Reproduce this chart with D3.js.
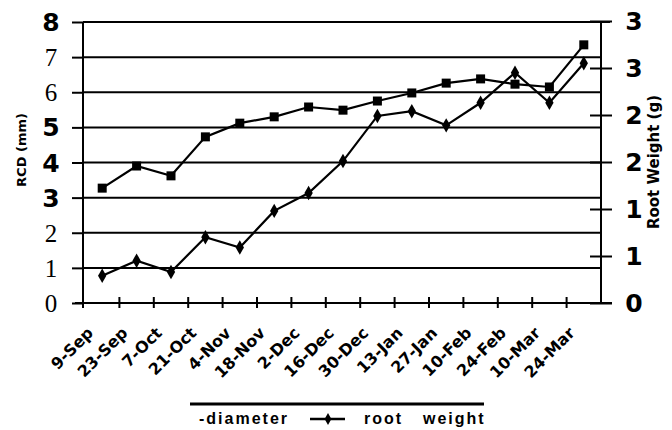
<!DOCTYPE html>
<html>
<head>
<meta charset="utf-8">
<script src="https://cdn.jsdelivr.net/npm/d3@7"></script>
<style>
body{margin:0;background:#fff;}
svg{display:block;}
</style>
</head>
<body>
<div id="chart"></div>
<script>
// sampling dates
const dates = ["9-Sep","23-Sep","7-Oct","21-Oct","4-Nov","18-Nov","2-Dec","16-Dec","30-Dec","13-Jan","27-Jan","10-Feb","24-Feb","10-Mar","24-Mar"];
// root collar diameter (mm), left axis
const diameter = [3.27,3.90,3.62,4.73,5.12,5.30,5.58,5.49,5.75,5.98,6.26,6.38,6.23,6.15,7.35];
// root weight (g), right axis
const rootWeight = [0.29,0.45,0.33,0.70,0.59,0.98,1.17,1.51,1.99,2.04,1.89,2.13,2.45,2.13,2.55];
const leftTicks = [0,1,2,3,4,5,6,7,8];
const boldLeft = [3,4,5,8];
const rightTicks = [0,0.5,1,1.5,2,2.5,3];

const W = 672, H = 430;
const svg = d3.select("#chart").append("svg")
  .attr("width", W).attr("height", H);

const x = d3.scaleBand().domain(dates).range([85, 601]);
const yL = d3.scaleLinear().domain([0, 8]).range([303, 22]);
const yR = d3.scaleLinear().domain([0, 3]).range([303, 21]);

// horizontal grid
svg.append("g")
  .selectAll("line")
  .data(leftTicks.filter(d => d > 0))
  .join("line")
  .attr("x1", 83).attr("x2", d => d == 8 ? 610 : 601)
  .attr("y1", d => yL(d)).attr("y2", d => yL(d))
  .attr("stroke", "#000").attr("stroke-width", 2);

// left axis
const gl = svg.append("g").attr("transform", "translate(83,0)")
  .call(d3.axisLeft(yL).tickValues(leftTicks).tickSize(11).tickFormat(""));
gl.select(".domain").attr("d", "M0,22V308").attr("stroke-width", 2);
gl.selectAll(".tick line").attr("stroke-width", 2);

svg.append("g")
  .selectAll("text")
  .data(leftTicks)
  .join("text")
  .attr("x", 51).attr("y", d => yL(d))
  .attr("dy", "0.36em")
  .attr("text-anchor", "middle")
  .style("font-family", d => boldLeft.includes(d) ? "DejaVu Sans" : "Liberation Sans Narrow")
  .style("font-weight", d => boldLeft.includes(d) ? "bold" : "normal")
  .style("font-size", "25px")
  .text(d => d);

// right axis
const gr = svg.append("g").attr("transform", "translate(601,0)")
  .call(d3.axisRight(yR).tickValues(rightTicks).tickSize(11).tickFormat(""));
gr.select(".domain").attr("d", "M0,21V303").attr("stroke-width", 2);
gr.selectAll(".tick line").attr("x1", -11).attr("stroke-width", 2);

svg.append("g")
  .selectAll("text")
  .data(rightTicks)
  .join("text")
  .attr("x", 634).attr("y", d => yR(d))
  .attr("dy", "0.36em")
  .attr("text-anchor", "middle")
  .style("font-family", "DejaVu Sans")
  .style("font-weight", "bold")
  .style("font-size", "25px")
  .text(d => Math.round(d));

// x axis
const gx = svg.append("g").attr("transform", "translate(0,303)")
  .call(d3.axisBottom(x).tickValues([]).tickSizeOuter(0));
gx.select(".domain").attr("d", "M75,0H612").attr("stroke-width", 2);
svg.append("g")
  .selectAll("line")
  .data(dates.slice(1))
  .join("line")
  .attr("x1", d => x(d)).attr("x2", d => x(d))
  .attr("y1", 297).attr("y2", 308)
  .attr("stroke", "#000").attr("stroke-width", 2);

svg.append("g")
  .selectAll("text")
  .data(dates)
  .join("text")
  .attr("transform", d => `translate(${x(d) + x.bandwidth() / 2 - 8},${334}) rotate(-45)`)
  .attr("text-anchor", "end")
  .style("font-family", "DejaVu Sans")
  .style("font-weight", "bold")
  .style("font-size", "16px")
  .text(d => d);

// axis titles
svg.append("text")
  .attr("transform", "translate(26,150) rotate(-90)")
  .attr("text-anchor", "middle")
  .style("font-family", "DejaVu Sans")
  .style("font-weight", "bold")
  .style("font-size", "13px")
  .text("RCD (mm)");
svg.append("text")
  .attr("transform", "translate(659,162) rotate(-90)")
  .attr("text-anchor", "middle")
  .style("font-family", "DejaVu Sans")
  .style("font-weight", "bold")
  .style("font-size", "15px")
  .text("Root Weight (g)");

// series
const cx = d => x(d) + x.bandwidth() / 2;
const lineL = d3.line().x((d, i) => cx(dates[i])).y(d => yL(d));
const lineR = d3.line().x((d, i) => cx(dates[i])).y(d => yR(d));

svg.append("path").datum(diameter)
  .attr("d", lineL).attr("fill", "none")
  .attr("stroke", "#000").attr("stroke-width", 2.2);
svg.append("path").datum(rootWeight)
  .attr("d", lineR).attr("fill", "none")
  .attr("stroke", "#000").attr("stroke-width", 2.2);

svg.append("g")
  .selectAll("rect")
  .data(diameter)
  .join("rect")
  .attr("x", (d, i) => cx(dates[i]) - 4.5)
  .attr("y", d => yL(d) - 4.5)
  .attr("width", 9).attr("height", 9)
  .attr("fill", "#000");

const diamond = d3.symbol().type(d3.symbolDiamond).size(60);
svg.append("g")
  .selectAll("path")
  .data(rootWeight)
  .join("path")
  .attr("transform", (d, i) => `translate(${cx(dates[i])},${yR(d)})`)
  .attr("d", diamond)
  .attr("fill", "#000");

// legend
const lg = svg.append("g");
lg.append("line").attr("x1", 190).attr("x2", 484).attr("y1", 404).attr("y2", 404)
  .attr("stroke", "#000").attr("stroke-width", 3);
lg.append("line").attr("x1", 310).attr("x2", 345).attr("y1", 419).attr("y2", 419)
  .attr("stroke", "#000").attr("stroke-width", 2.5);
lg.append("path").attr("transform", "translate(328,419)")
  .attr("d", d3.symbol().type(d3.symbolDiamond).size(40)).attr("fill", "#000");
const legText = [["-diameter", 199], ["root", 364], ["weight", 423]];
lg.selectAll("text.leg")
  .data(legText)
  .join("text")
  .attr("class", "leg")
  .attr("x", d => d[1]).attr("y", 424)
  .style("font-family", "Liberation Sans")
  .style("font-weight", "bold")
  .style("font-size", "16px")
  .style("letter-spacing", "2px")
  .text(d => d[0]);
</script>
</body>
</html>
